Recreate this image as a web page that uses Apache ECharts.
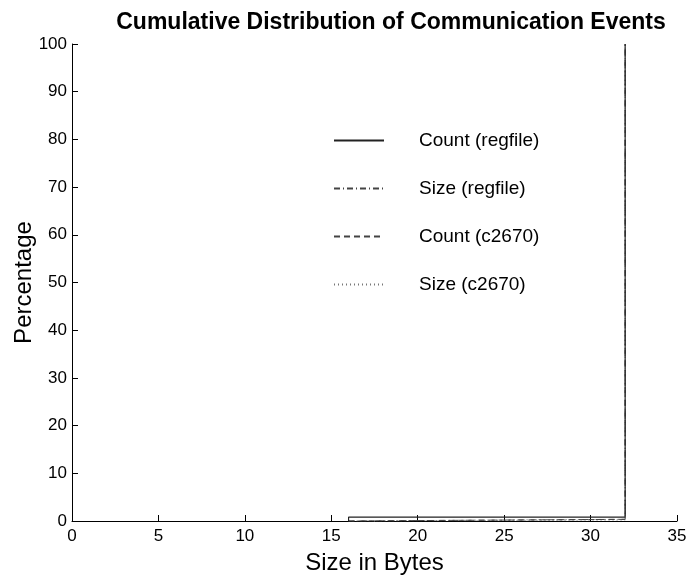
<!DOCTYPE html>
<html>
<head>
<meta charset="utf-8">
<script src="https://cdn.jsdelivr.net/npm/echarts@6/dist/echarts.min.js"></script>
<style>
  html, body { margin: 0; padding: 0; background: #fff; }
  #chart { width: 691px; height: 575px; }
</style>
</head>
<body>
<div id="chart"></div>
<script>
// Cumulative percentages by message size (bytes)
const countRegfileX = [16, 16, 32, 32];
const countRegfileY = [0, 0.8, 0.8, 100];
const sizeRegfileX = [16, 16, 32, 32];
const sizeRegfileY = [0, 0.35, 0.35, 100];
const countC2670X = [16, 16, 32, 32];
const countC2670Y = [0, 0.35, 0.35, 100];
const sizeC2670X = [16, 16, 32, 32];
const sizeC2670Y = [0, 0.2, 0.2, 100];

const seriesNames = ['Count (regfile)', 'Size (regfile)', 'Count (c2670)', 'Size (c2670)'];
const xTicks = [0, 5, 10, 15, 20, 25, 30, 35];
const yTicks = [0, 10, 20, 30, 40, 50, 60, 70, 80, 90, 100];

const zip = (xs, ys) => xs.map((x, i) => [x, ys[i]]);
const FONT = '"Liberation Sans", Arial, sans-serif';

const styles = [
  { color: '#222', type: 'solid', width: 1.2 },
  { color: '#444', type: [6, 3, 1, 3], width: 1 },
  { color: '#444', type: [6, 4], width: 1 },
  { color: '#777', type: [1, 3], width: 1 }
];
const datasets = [
  zip(countRegfileX, countRegfileY),
  zip(sizeRegfileX, sizeRegfileY),
  zip(countC2670X, countC2670Y),
  zip(sizeC2670X, sizeC2670Y)
];

const chart = echarts.init(document.getElementById('chart'), null, { renderer: 'canvas' });
chart.setOption({
  backgroundColor: '#fff',
  animation: false,
  title: {
    text: 'Cumulative Distribution of Communication Events',
    left: 386, top: 6, textAlign: 'center',
    textStyle: { fontFamily: FONT, fontSize: 23, fontWeight: 'bold', color: '#000' }
  },
  legend: {
    orient: 'vertical',
    left: 333, top: 131, padding: 0,
    itemWidth: 50, itemHeight: 14, itemGap: 29,
    data: seriesNames,
    itemStyle: { opacity: 0 },
    textStyle: { fontFamily: FONT, fontSize: 19, color: '#000', padding: [0, 0, 0, 30] }
  },
  grid: { left: 72, right: 14, top: 44, bottom: 54, outerBoundsMode: 'none', containLabel: false },
  xAxis: {
    type: 'value', min: 0, max: 35, interval: 5,
    name: 'Size in Bytes', nameLocation: 'middle', nameGap: 30, nameMoveOverlap: false,
    nameTextStyle: { fontFamily: FONT, fontSize: 24, color: '#000' },
    axisLine: { show: true, lineStyle: { color: '#000', width: 1 } },
    axisTick: { show: true, inside: true, length: 6, lineStyle: { color: '#000' } },
    axisLabel: { fontFamily: FONT, fontSize: 17, color: '#000', margin: 7 },
    splitLine: { show: false }
  },
  yAxis: {
    type: 'value', min: 0, max: 100, interval: 10,
    name: 'Percentage', nameLocation: 'middle', nameGap: 36, nameRotate: 90, nameMoveOverlap: false,
    nameTextStyle: { fontFamily: FONT, fontSize: 24, color: '#000' },
    axisLine: { show: true, lineStyle: { color: '#000', width: 1 } },
    axisTick: { show: true, inside: true, length: 6, lineStyle: { color: '#000' } },
    axisLabel: { fontFamily: FONT, fontSize: 17, color: '#000', margin: 5 },
    splitLine: { show: false }
  },
  series: seriesNames.map((name, i) => ({
    name,
    type: 'line',
    data: datasets[i],
    symbol: 'none',
    lineStyle: styles[i],
    itemStyle: { color: styles[i].color },
    z: 4 - i
  }))
});
</script>
</body>
</html>
